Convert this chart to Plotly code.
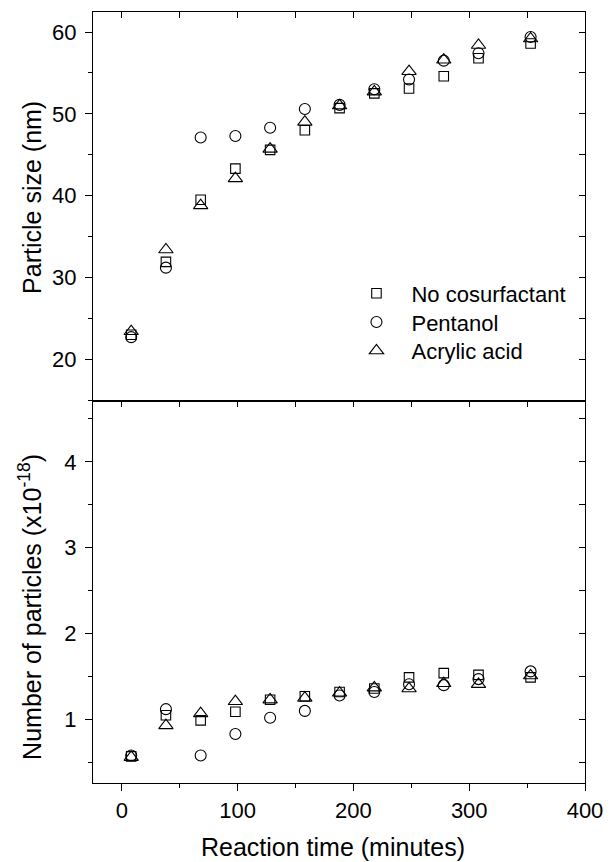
import plotly.graph_objects as go

# Reaction times (minutes)
time_min = [8, 38, 68, 98, 128, 158, 188, 218, 248, 278, 308, 353]

# Particle size (nm)
size_none = [23.0, 31.9, 39.5, 43.3, 45.6, 48.0, 50.7, 52.5, 53.1, 54.6, 56.8, 58.6]
size_pentanol = [22.7, 31.2, 47.1, 47.3, 48.3, 50.6, 51.1, 53.0, 54.2, 56.5, 57.4, 59.4]
size_acrylic = [23.4, 33.4, 38.8, 42.1, 45.7, 49.0, 51.0, 52.7, 55.2, 56.6, 58.4, 59.2]

# Number of particles (x10^-18)
num_none = [0.57, 1.05, 0.99, 1.09, 1.23, 1.27, 1.32, 1.36, 1.49, 1.54, 1.52, 1.49]
num_pentanol = [0.58, 1.12, 0.58, 0.83, 1.02, 1.10, 1.28, 1.32, 1.41, 1.40, 1.47, 1.56]
num_acrylic = [0.56, 0.93, 1.07, 1.21, 1.23, 1.25, 1.31, 1.37, 1.36, 1.42, 1.41, 1.51]

series_names = ["No cosurfactant", "Pentanol", "Acrylic acid"]
symbols = ["square-open", "circle-open", "triangle-up-open"]
sizes = [9.5, 11, 12.5]
legend_ids = ["legend", "legend2", "legend3"]
legend_tops = [0.6621, 0.6249, 0.5877]

FONT = "Liberation Sans, Arial, sans-serif"
X_RANGE = [-25, 400]
TOP_RANGE = [14.9, 62.45]
BOT_RANGE = [0.26, 4.71]
SPLIT = 0.4955

fig = go.Figure()

top_vals = [size_none, size_pentanol, size_acrylic]
bot_vals = [num_none, num_pentanol, num_acrylic]

for name, sym, sz, yv, lg in zip(series_names, symbols, sizes, top_vals, legend_ids):
    fig.add_trace(go.Scatter(
        x=time_min, y=yv, mode="markers", name=name, legend=lg,
        xaxis="x2", yaxis="y2",
        marker=dict(symbol=sym, size=sz, color="black", line=dict(width=1.1, color="black")),
    ))

for name, sym, sz, yv in zip(series_names, symbols, sizes, bot_vals):
    fig.add_trace(go.Scatter(
        x=time_min, y=yv, mode="markers", name=name, showlegend=False,
        xaxis="x", yaxis="y",
        marker=dict(symbol=sym, size=sz, color="black", line=dict(width=1.1, color="black")),
    ))

# empty traces so the mirrored frame axes (top / right) get drawn
for xa, ya in [("x3", "y3"), ("x4", "y4")]:
    fig.add_trace(go.Scatter(x=[], y=[], xaxis=xa, yaxis=ya, showlegend=False,
                             hoverinfo="skip", mode="markers"))

line = dict(showline=True, linecolor="black", linewidth=1.2, zeroline=False, showgrid=False)
tickfont = dict(family=FONT, size=22, color="black")
tk = dict(tickwidth=1.2, tickcolor="black")

fig.update_layout(
    width=615, height=862,
    margin=dict(l=93, r=22, t=12, b=79),
    paper_bgcolor="white", plot_bgcolor="white",
    font=dict(family=FONT, color="black"),
    # bottom panel
    xaxis=dict(domain=[0, 1], anchor="y", range=X_RANGE, ticks="outside", ticklen=7,
               tickvals=[0, 100, 200, 300, 400],
               minor=dict(tickvals=[50, 150, 250, 350], ticks="outside", ticklen=4, **tk),
               tickfont=tickfont, **tk, **line),
    yaxis=dict(domain=[0, SPLIT], anchor="x", range=BOT_RANGE, ticks="outside", ticklen=7,
               tickvals=[1, 2, 3, 4], ticklabelstandoff=4,
               minor=dict(tickvals=[0.5, 1.5, 2.5, 3.5, 4.5], ticks="outside", ticklen=4, **tk),
               tickfont=tickfont, **tk, **line),
    xaxis3=dict(overlaying="x", anchor="y3", side="top", range=X_RANGE, ticks="inside",
                ticklen=6, tickvals=[0, 50, 100, 150, 200, 250, 300, 350],
                showticklabels=False, **tk, **line),
    yaxis3=dict(overlaying="y", anchor="x3", side="right", range=BOT_RANGE, ticks="inside",
                ticklen=6, tickvals=[0.5, 1, 1.5, 2, 2.5, 3, 3.5, 4, 4.5],
                showticklabels=False, **tk, **line),
    # top panel
    xaxis2=dict(domain=[0, 1], anchor="y2", range=X_RANGE, ticks="", showticklabels=False, **line),
    yaxis2=dict(domain=[SPLIT, 1], anchor="x2", range=TOP_RANGE, ticks="outside", ticklen=7,
                tickvals=[20, 30, 40, 50, 60], ticklabelstandoff=4,
                minor=dict(tickvals=[15, 25, 35, 45, 55], ticks="outside", ticklen=4, **tk),
                tickfont=tickfont, **tk, **line),
    xaxis4=dict(overlaying="x2", anchor="y4", side="top", range=X_RANGE, ticks="inside",
                ticklen=6, tickvals=[0, 50, 100, 150, 200, 250, 300, 350],
                showticklabels=False, **tk, **line),
    yaxis4=dict(overlaying="y2", anchor="x4", side="right", range=TOP_RANGE, ticks="inside",
                ticklen=6, tickvals=[15, 20, 25, 30, 35, 40, 45, 50, 55, 60],
                showticklabels=False, **tk, **line),
    showlegend=True,
)

for lg, top in zip(legend_ids, legend_tops):
    fig.update_layout({lg: dict(x=0.505, y=top, xanchor="left", yanchor="top", itemwidth=60,
                                bgcolor="rgba(0,0,0,0)", borderwidth=0,
                                font=dict(family=FONT, size=22, color="black"))})

title_font = dict(family=FONT, size=25, color="black")
fig.add_annotation(text="Particle size (nm)", xref="paper", yref="paper",
                   x=-0.1227, y=0.7597, xanchor="center", yanchor="middle",
                   textangle=-90, showarrow=False, font=title_font)
fig.add_annotation(text="Number of particles (x10<sup>-18</sup>)", xref="paper", yref="paper",
                   x=-0.1268, y=0.2279, xanchor="center", yanchor="middle",
                   textangle=-90, showarrow=False, font=title_font)
fig.add_annotation(text="Reaction time (minutes)", xref="paper", yref="paper",
                   x=0.4874, y=-0.0834, xanchor="center", yanchor="middle",
                   showarrow=False, font=title_font)

fig.write_html("out.html")
